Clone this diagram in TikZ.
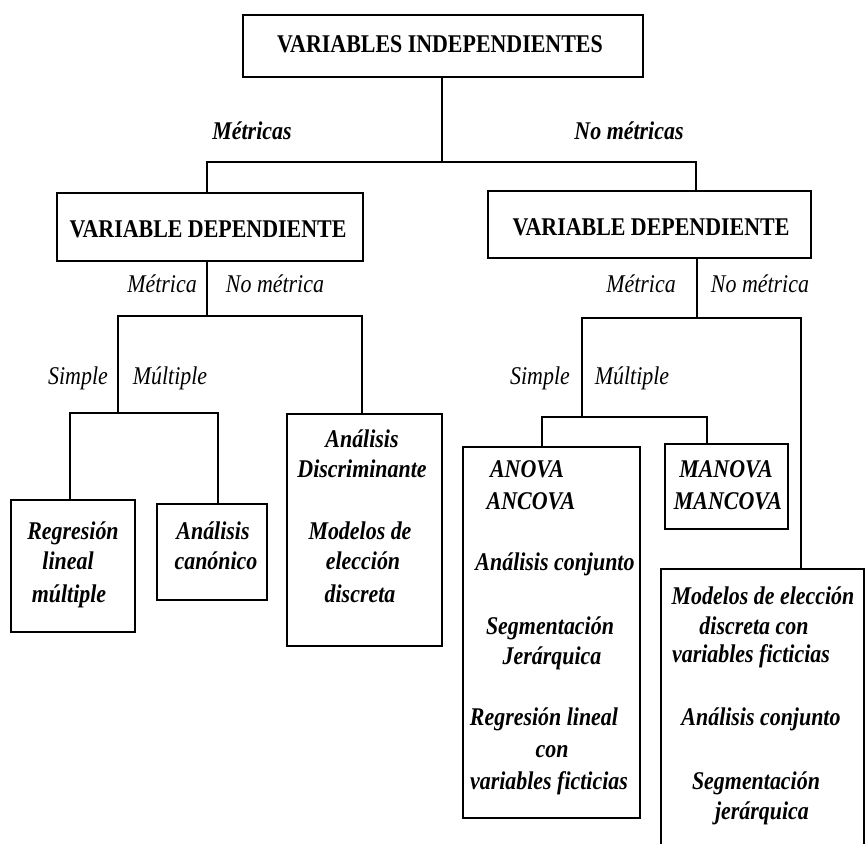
\documentclass[tikz,border=0pt]{standalone}
\usepackage{fontspec}
\setmainfont{Liberation Serif}[FakeStretch=0.86]
\begin{document}
\begin{tikzpicture}[x=1pt,y=-1pt,
  box/.style={draw,line width=1.8pt,inner sep=0pt},
  conn/.style={line width=1.4pt},
  hdr/.style={font=\fontsize{25.5}{30}\selectfont\bfseries,inner sep=0pt},
  bi/.style={font=\fontsize{25.5}{30}\selectfont\bfseries\itshape,inner sep=0pt,text height=0.68em,text depth=0.2em},
  it/.style={font=\fontsize{25.5}{30}\selectfont\itshape,inner sep=0pt,text height=0.68em,text depth=0.2em}]
\clip (0,0) rectangle (866,843);
\fill[white] (0,0) rectangle (866,843);
% boxes
\node[box,minimum width=400pt,minimum height=62pt] (top) at (443,46) {};
\node[box,minimum width=306pt,minimum height=68pt] (vdl) at (210,227) {};
\node[box,minimum width=323pt,minimum height=67pt] (vdr) at (649.5,224.5) {};
\node[box,minimum width=124pt,minimum height=132pt] (reg) at (73,566) {};
\node[box,minimum width=110pt,minimum height=96pt] (can) at (212,552) {};
\node[box,minimum width=155pt,minimum height=232pt] (dis) at (364.5,530) {};
\node[box,minimum width=177pt,minimum height=371pt] (anova) at (551.5,632.5) {};
\node[box,minimum width=123pt,minimum height=85pt] (manova) at (726.5,486.5) {};
\node[box,minimum width=203pt,minimum height=330pt] (last) at (762.5,734) {};
% header texts
\node[hdr] (tTop) at (440,44) {VARIABLES INDEPENDIENTES};
\node[hdr] (tVdl) at (208,229) {VARIABLE DEPENDIENTE};
\node[hdr] (tVdr) at (651,227) {VARIABLE DEPENDIENTE};
% junction coordinates
\coordinate (aL) at (207,162);
\coordinate (aR) at (696,162);
\coordinate (bL) at (118,316);
\coordinate (bR) at (362,316);
\coordinate (cL) at (70,413);
\coordinate (cR) at (218,413);
\coordinate (dL) at (582,318);
\coordinate (dR) at (801,318);
\coordinate (eL) at (542,417);
\coordinate (eR) at (707,417);
% connectors
\draw[conn] (top.south -| 442,0) -- (442,162);
\draw[conn] (aL |- vdl.north) -- (aL) -- (aR) -- (aR |- vdr.north);
\draw[conn] (vdl.south -| aL) -- (aL |- bL);
\draw[conn] (bL |- cL) -- (bL) -- (bR) -- (bR |- dis.north);
\draw[conn] (cL |- reg.north) -- (cL) -- (cR) -- (cR |- can.north);
\draw[conn] (vdr.south -| 697,0) -- (697,318);
\draw[conn] (dL |- eL) -- (dL) -- (dR) -- (dR |- last.north);
\draw[conn] (eL |- anova.north) -- (eL) -- (eR) -- (eR |- manova.north);
% branch labels
\node[bi] (lMet) at (252,137) {Métricas};
\node[bi] (lNoMet) at (629,137) {No métricas};
\node[it] (lMl) at (162,290) {Métrica};
\node[it] (lNMl) at (275,290) {No métrica};
\node[it] (lSl) at (78,382) {Simple};
\node[it] (lMul) at (170,382) {Múltiple};
\node[it] (lMr) at (641,290) {Métrica};
\node[it] (lNMr) at (760,290) {No métrica};
\node[it] (lSr) at (540,382) {Simple};
\node[it] (lMur) at (632,382) {Múltiple};
% box texts
\node[bi] (r1) at (73,537) {Regresión};
\node[bi] (r2) at (68,567) {lineal};
\node[bi] (r3) at (69,600) {múltiple};
\node[bi] (c1) at (213,537) {Análisis};
\node[bi] (c2) at (216,567) {canónico};
\node[bi] (d1) at (362,445) {Análisis};
\node[bi] (d2) at (362,475) {Discriminante};
\node[bi] (d3) at (360,537) {Modelos de};
\node[bi] (d4) at (363,567) {elección};
\node[bi] (d5) at (360,600) {discreta};
\node[bi] (a1) at (527,475) {ANOVA};
\node[bi] (a2) at (531,507) {ANCOVA};
\node[bi] (a3) at (555,568) {Análisis conjunto};
\node[bi] (a4) at (550,632) {Segmentación};
\node[bi] (a5) at (552,662) {Jerárquica};
\node[bi] (a6) at (544,723) {Regresión lineal};
\node[bi] (a7) at (552,755) {con};
\node[bi] (a8) at (549,787) {variables ficticias};
\node[bi] (m1) at (726,475) {MANOVA};
\node[bi] (m2) at (728,507) {MANCOVA};
\node[bi] (n1) at (763,602) {Modelos de elección};
\node[bi] (n2) at (754,632) {discreta con};
\node[bi] (n3) at (751,660) {variables ficticias};
\node[bi] (n4) at (761,723) {Análisis conjunto};
\node[bi] (n5) at (756,787) {Segmentación};
\node[bi] (n6) at (762,817) {jerárquica};
\end{tikzpicture}
\end{document}
